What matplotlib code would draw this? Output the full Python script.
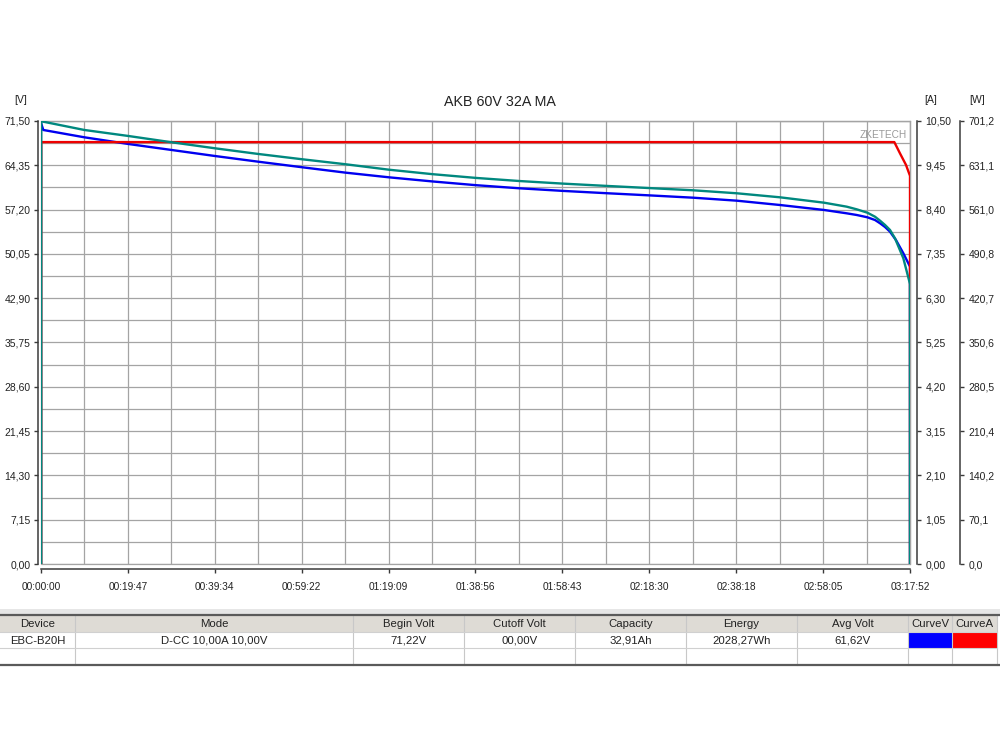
import matplotlib
matplotlib.use("Agg")
import matplotlib.pyplot as plt
from matplotlib.patches import Rectangle
from matplotlib.ticker import FixedLocator

plt.rcParams['font.family'] = ['Liberation Sans', 'DejaVu Sans']

# ---------------- data ----------------
title = "AKB 60V 32A MA"
watermark = "ZKETECH"
t_total = 11872  # seconds, 03:17:52

x_tick_labels = ["00:00:00", "00:19:47", "00:39:34", "00:59:22", "01:19:09", "01:38:56",
                 "01:58:43", "02:18:30", "02:38:18", "02:58:05", "03:17:52"]
v_max = 71.5
a_max = 10.5
w_max = 701.2
v_tick_labels = ["0,00", "7,15", "14,30", "21,45", "28,60", "35,75", "42,90", "50,05",
                 "57,20", "64,35", "71,50"]
a_tick_labels = ["0,00", "1,05", "2,10", "3,15", "4,20", "5,25", "6,30", "7,35",
                 "8,40", "9,45", "10,50"]
w_tick_labels = ["0,0", "70,1", "140,2", "210,4", "280,5", "350,6", "420,7", "490,8",
                 "561,0", "631,1", "701,2"]

# voltage curve (blue), seconds / volts
volt_t = [0, 0, 33, 593, 1194, 1787, 2378, 2970, 3571, 4164, 4755, 5352, 5944, 6535,
          7128, 7719, 8320, 8912, 9505, 10097, 10698, 11007, 11144, 11289, 11394, 11463,
          11531, 11599, 11681, 11781, 11872, 11872]
volt_v = [0, 71.22, 70.05, 68.87, 67.79, 66.82, 65.85, 64.93, 64.03, 63.16, 62.41,
          61.74, 61.14, 60.64, 60.22, 59.85, 59.49, 59.12, 58.64, 57.94, 57.14, 56.60,
          56.33, 55.96, 55.52, 54.99, 54.39, 53.63, 52.27, 50.15, 47.99, 0]

# current curve (red), seconds / amps
curr_t = [4, 4, 11658, 11736, 11817, 11872, 11872]
curr_a = [0, 10.0, 10.0, 9.73, 9.46, 9.20, 0]

# power curve (teal), seconds / watts
power_t = [4, 4, 33, 593, 1194, 1787, 2378, 2970, 3571, 4164, 4755, 5352, 5944, 6535,
           7128, 7719, 8320, 8912, 9505, 10097, 10698, 11007, 11144, 11289, 11394, 11463,
           11531, 11599, 11667, 11781, 11872, 11872]
power_w = [0, 701.2, 700.1, 687.0, 677.5, 667.5, 658.0, 649.0, 640.6, 632.7, 624.1,
           617.0, 611.1, 606.2, 602.1, 598.5, 595.0, 591.5, 586.8, 580.4, 571.9, 565.6,
           561.4, 556.1, 549.7, 543.4, 536.6, 528.7, 515.5, 483.9, 443.2, 0]

# summary table
table_headers = ["Device", "Mode", "Begin Volt", "Cutoff Volt", "Capacity", "Energy",
                 "Avg Volt", "CurveV", "CurveA"]
table_values = ["EBC-B20H", "D-CC 10,00A 10,00V", "71,22V", "00,00V", "32,91Ah",
                "2028,27Wh", "61,62V", "", ""]
curve_colors = {"CurveV": "#0000ff", "CurveA": "#ff0000"}

# ---------------- styling ----------------
BLUE = "#0000f0"
RED = "#ee0000"
TEAL = "#00887f"
GRID = "#a4a4a4"
AXC = "#3a3a3a"
TXT = "#222222"

fig = plt.figure(figsize=(10, 7.5), dpi=100)
fig.patch.set_facecolor("white")

ax = fig.add_axes([0.0409, 0.248, 0.8691, 0.59067])
ax_a = ax.twinx()
ax_w = ax.twinx()

ax.set_xlim(0, t_total)
ax.set_ylim(0, v_max)
ax_a.set_ylim(0, a_max)
ax_w.set_ylim(0, w_max)

n_lab = len(x_tick_labels)
x_major = [t_total * i / (n_lab - 1) for i in range(n_lab)]
x_minor = [t_total * (i + 0.5) / (n_lab - 1) for i in range(n_lab - 1)]
v_major = [v_max * i / (len(v_tick_labels) - 1) for i in range(len(v_tick_labels))]
v_minor = [v_max * (i + 0.5) / (len(v_tick_labels) - 1) for i in range(len(v_tick_labels) - 1)]
a_major = [a_max * i / (len(a_tick_labels) - 1) for i in range(len(a_tick_labels))]
w_major = [w_max * i / (len(w_tick_labels) - 1) for i in range(len(w_tick_labels))]

ax.xaxis.set_major_locator(FixedLocator(x_major))
ax.xaxis.set_minor_locator(FixedLocator(x_minor))
ax.set_xticklabels(x_tick_labels)
ax.yaxis.set_major_locator(FixedLocator(v_major))
ax.yaxis.set_minor_locator(FixedLocator(v_minor))
ax.set_yticklabels(v_tick_labels)
ax_a.yaxis.set_major_locator(FixedLocator(a_major))
ax_a.set_yticklabels(a_tick_labels)
ax_w.yaxis.set_major_locator(FixedLocator(w_major))
ax_w.set_yticklabels(w_tick_labels)

ax.grid(True, which="both", color=GRID, lw=0.9)
ax.set_axisbelow(True)
ax.tick_params(which="minor", length=0)

# spines
for s in ["top", "right"]:
    ax.spines[s].set_color(GRID)
    ax.spines[s].set_linewidth(0.9)
ax.spines["left"].set_position(("outward", 2.2))
ax.spines["bottom"].set_position(("outward", 3.6))
for s in ["left", "bottom"]:
    ax.spines[s].set_color(AXC)
    ax.spines[s].set_linewidth(1.1)
ax.add_patch(Rectangle((0, 0), 1, 1, transform=ax.transAxes, fill=False,
                       edgecolor=GRID, lw=0.9, zorder=0.5, clip_on=False))

ax.tick_params(axis="y", which="major", direction="out", length=3.2, width=1.0,
               color=AXC, pad=2.0, labelsize=7.5, labelcolor=TXT)
ax.tick_params(axis="x", which="major", direction="out", length=3.2, width=1.0,
               color=AXC, pad=6.5, labelsize=7.3, labelcolor=TXT)

for tw, off in [(ax_a, 5.0), (ax_w, 36.0)]:
    for s in ["top", "bottom", "left"]:
        tw.spines[s].set_visible(False)
    tw.spines["right"].set_position(("outward", off))
    tw.spines["right"].set_color(AXC)
    tw.spines["right"].set_linewidth(1.1)
    tw.tick_params(axis="y", direction="out", length=3.2, width=1.0, color=AXC,
                   pad=2.8, labelsize=7.5, labelcolor=TXT)

# curves
ax.plot(volt_t, volt_v, color=BLUE, lw=1.7, zorder=3, solid_joinstyle="round")
ax_a.plot(curr_t, curr_a, color=RED, lw=1.7, zorder=3, solid_joinstyle="round")
ax_w.plot(power_t, power_w, color=TEAL, lw=1.7, zorder=4, solid_joinstyle="round")

ax_w.text(0.9965, 0.969, watermark, transform=ax_w.transAxes, ha="right", va="center",
          fontsize=7.3, color="#9a9a9a")

# titles and unit labels
fig.text(0.5, 1 - 102 / 750, title, ha="center", va="center", fontsize=10.3, color=TXT)
fig.text(0.021, 1 - 100 / 750, "[V]", ha="center", va="center", fontsize=7.5, color=TXT)
fig.text(0.931, 1 - 100 / 750, "[A]", ha="center", va="center", fontsize=7.5, color=TXT)
fig.text(0.977, 1 - 100 / 750, "[W]", ha="center", va="center", fontsize=7.5, color=TXT)

# ---------------- table ----------------
tab = fig.add_axes([0, 0, 1, 1])
tab.set_xlim(0, 1000)
tab.set_ylim(750, 0)
tab.axis("off")
tab.patch.set_visible(False)

col_edges = [0, 75, 353, 464, 575, 686, 797, 908, 952, 997]
y_band, y_top, y_h, y_d, y_e, y_bot = 609, 615, 632, 648, 663, 664.5

tab.add_patch(Rectangle((0, y_band), 1000, y_top - y_band, facecolor="#e6e6e6", lw=0))
tab.add_patch(Rectangle((0, y_top + 1), col_edges[-1], y_h - y_top - 1,
                        facecolor="#dedbd5", lw=0))
for i, h in enumerate(table_headers):
    cx = (col_edges[i] + col_edges[i + 1]) / 2
    tab.text(cx, (y_top + y_h) / 2 + 0.5, h, ha="center", va="center", fontsize=8.2,
             color=TXT)
    if h in curve_colors:
        tab.add_patch(Rectangle((col_edges[i] + 1, y_h + 1),
                                col_edges[i + 1] - col_edges[i] - 1, y_d - y_h - 1,
                                facecolor=curve_colors[h], lw=0))
    else:
        tab.text(cx, (y_h + y_d) / 2 + 0.5, table_values[i], ha="center", va="center",
                 fontsize=8.2, color=TXT)
for xe in col_edges[1:]:
    tab.plot([xe, xe], [y_top, y_bot], color="#c8c8c8", lw=0.8)
for yy in [y_h, y_d]:
    tab.plot([0, col_edges[-1]], [yy, yy], color="#d0d0d0", lw=0.8)
tab.plot([0, 1000], [y_top, y_top], color="#5a5a5a", lw=1.6)
tab.plot([0, 1000], [y_bot, y_bot], color="#5a5a5a", lw=1.6)

fig.savefig("out.png", dpi=100)
